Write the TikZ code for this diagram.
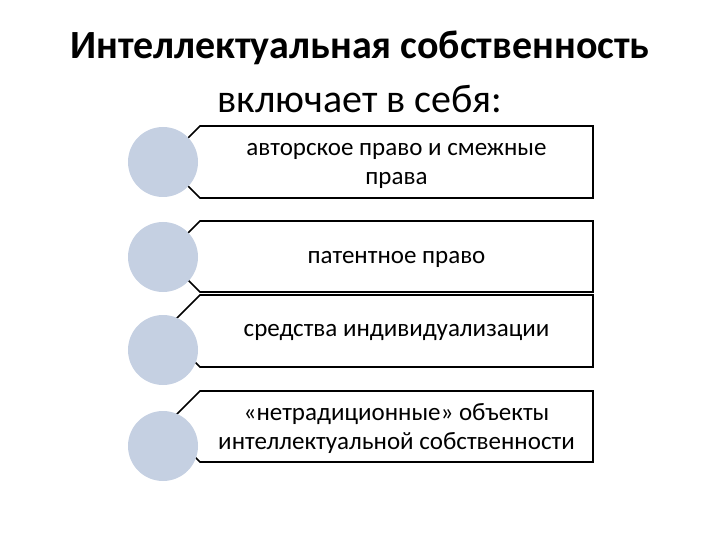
\documentclass[tikz,border=0pt]{standalone}
\usepackage{fontspec}
\setmainfont{Carlito}
\definecolor{circfill}{RGB}{197,208,226}
\tikzset{
  itembox/.style={draw=black, line width=1.6pt, fill=white, line join=miter},
  itemcirc/.style={fill=circfill, draw=none},
  itemtext/.style={font=\fontsize{25}{29}\selectfont, align=center, text=black},
  titletext/.style={font=\fontsize{40}{48}\selectfont, text=black}
}
\begin{document}
\begin{tikzpicture}[x=1pt,y=-1pt]
\useasboundingbox (0,0) rectangle (720,540);
\node[titletext, font=\fontsize{40}{48}\selectfont\bfseries] (t1) at (360,48) {Интеллектуальная собственность};
\node[titletext] (t2) at (360,99) {включает в себя:};
% boxes
\foreach \n/\top/\bot in {1/126/198, 2/221/292, 3/295/367, 4/391/462}{
  \draw[itembox] (200,\top) -- (593,\top) -- (593,\bot) -- (200,\bot) -- (170,\bot-30) -- (170,\top+30) -- cycle;
}
\coordinate (b1) at (396.5,166);
\coordinate (b2) at (396.5,259);
\coordinate (b3) at (396.5,332);
\coordinate (b4) at (396.5,429);
% circles
\fill[itemcirc] (163,162) circle (35);
\fill[itemcirc] (163,257) circle (35);
\fill[itemcirc] (163,350) circle (35);
\fill[itemcirc] (163,446) circle (35);
\node[itemtext] (l1) at (b1) {авторское право и смежные\\права};
\node[itemtext] (l2) at (b2) {патентное право};
\node[itemtext] (l3) at (b3) {средства индивидуализации};
\node[itemtext] (l4) at (b4) {«нетрадиционные» объекты\\интеллектуальной собственности};
\end{tikzpicture}
\end{document}
